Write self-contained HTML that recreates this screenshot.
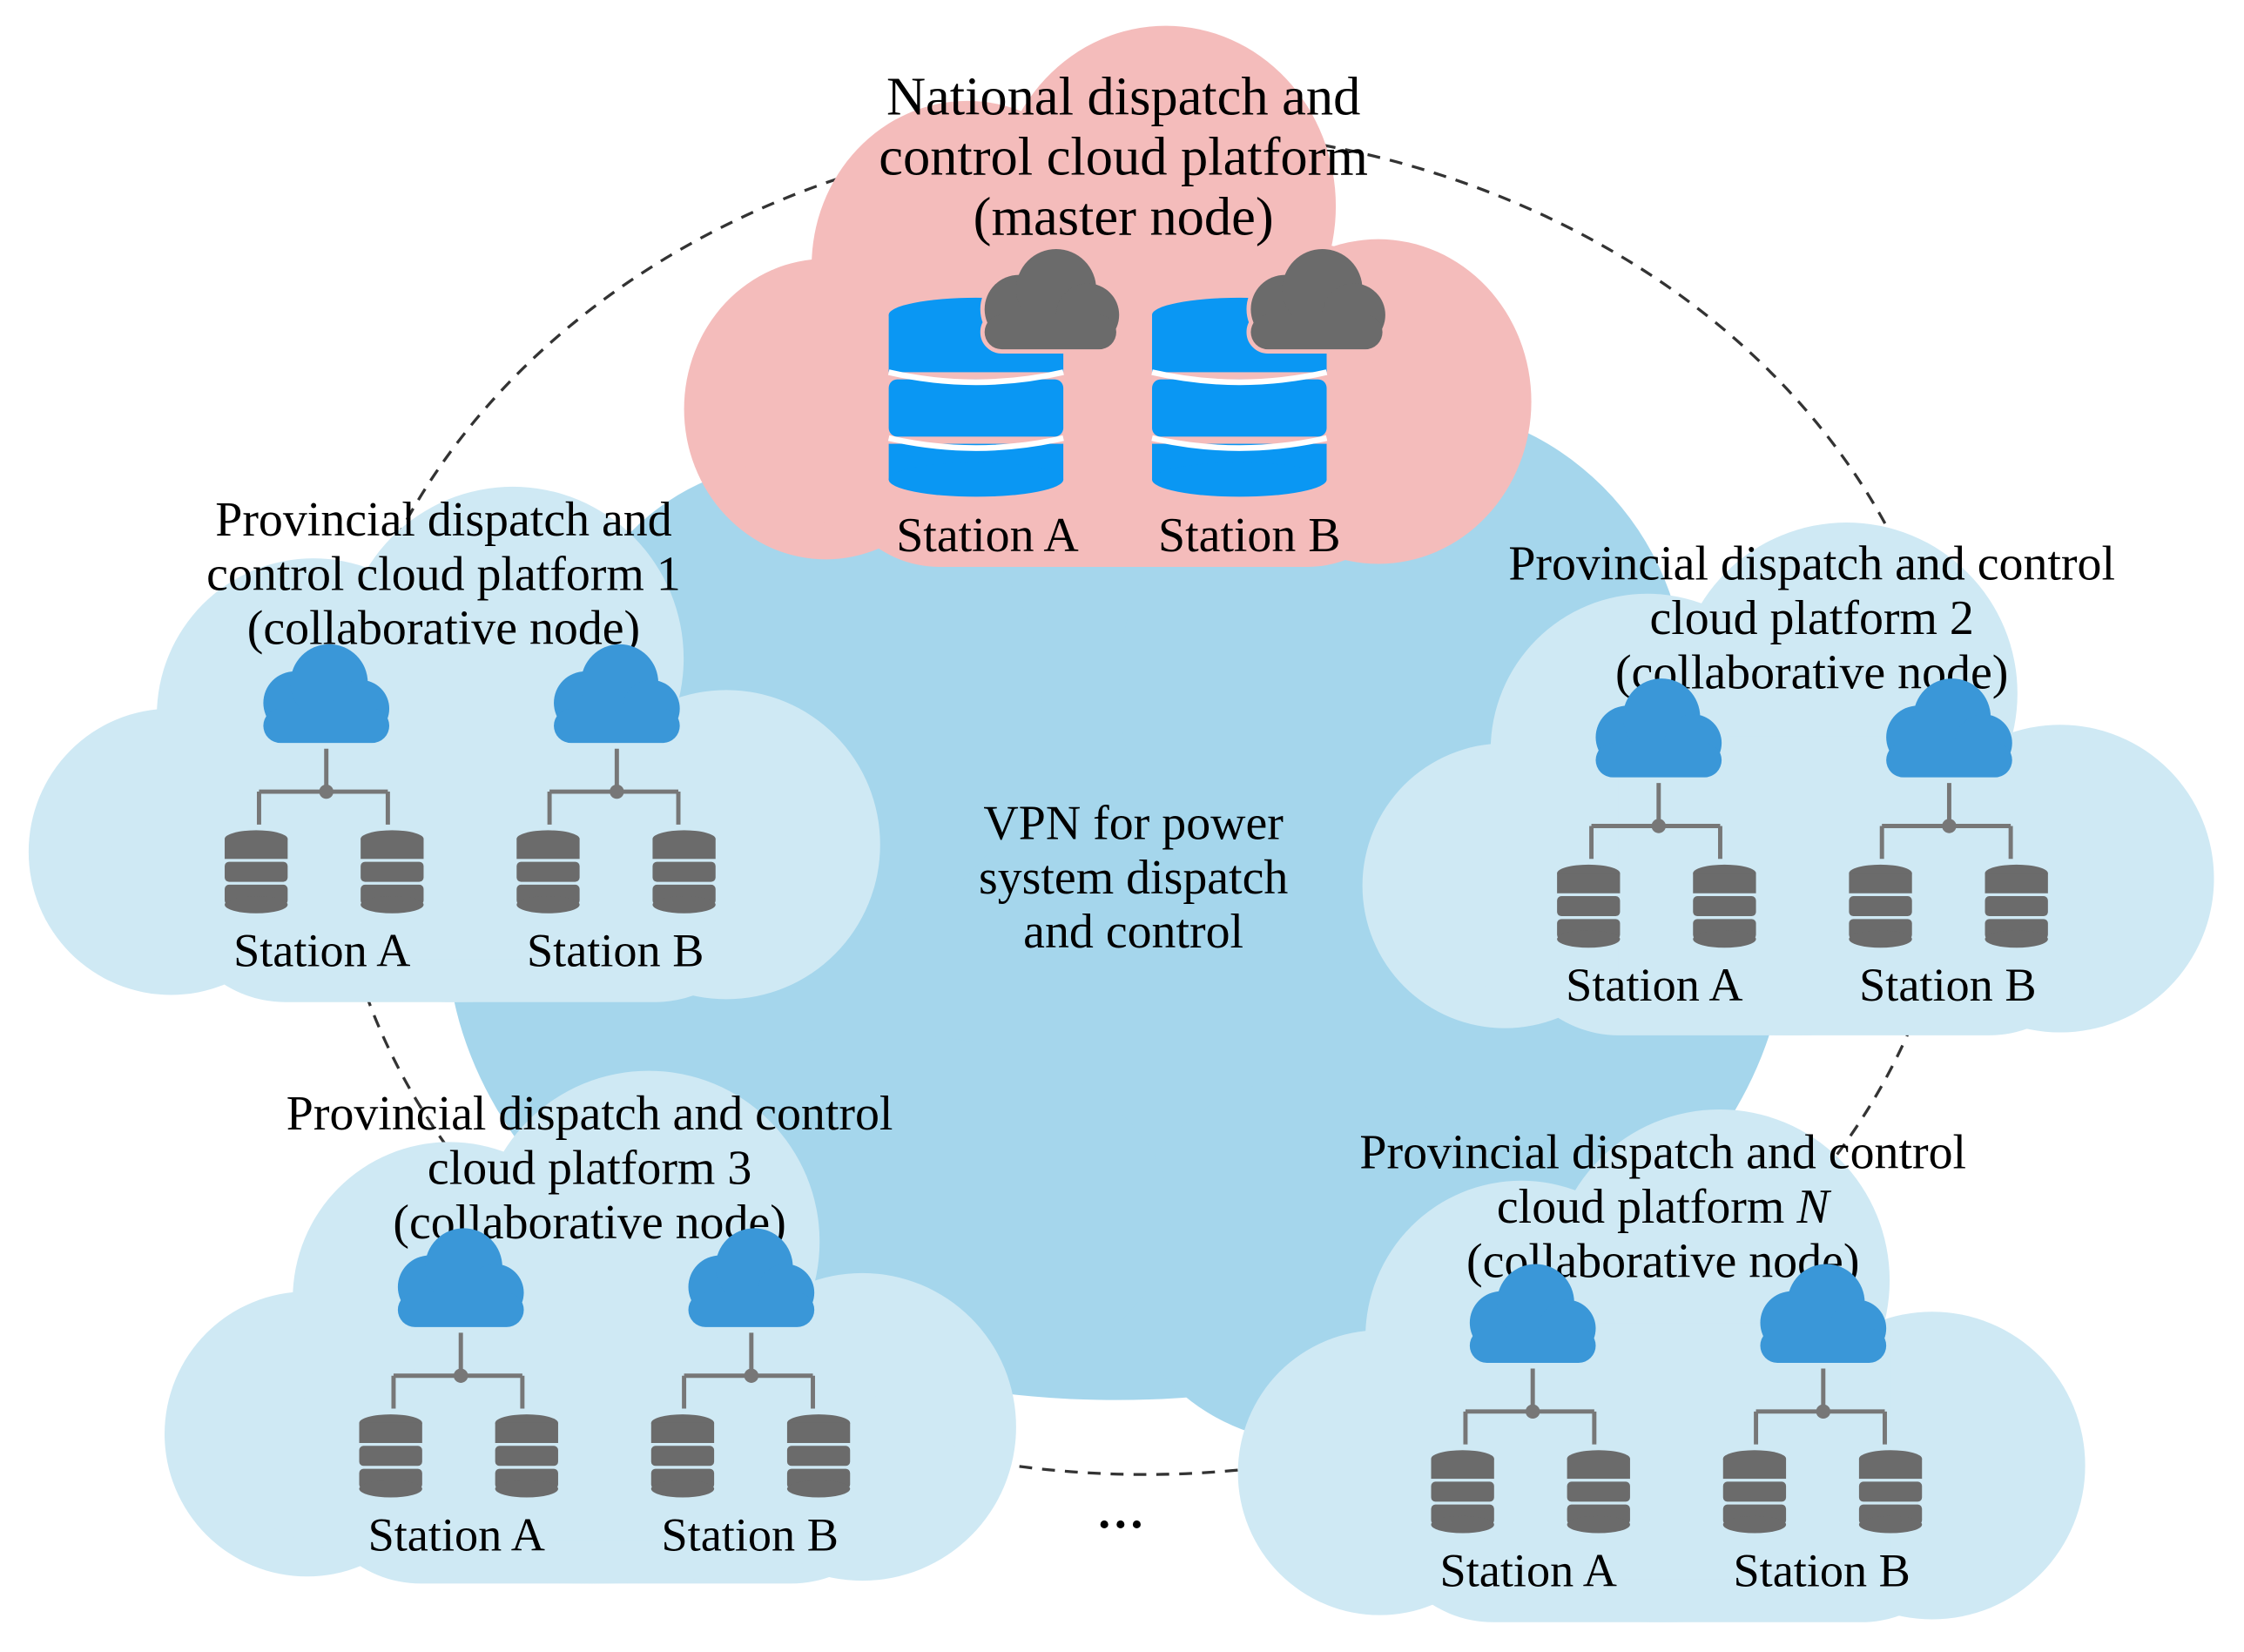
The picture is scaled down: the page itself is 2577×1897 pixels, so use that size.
<!DOCTYPE html>
<html><head><meta charset="utf-8"><style>html,body{margin:0;padding:0;background:#fff;}svg{display:block}text{font-family:"Liberation Serif",serif;}</style></head>
<body>
<svg width="2577" height="1897" viewBox="0 0 1568 1154" preserveAspectRatio="none" xmlns="http://www.w3.org/2000/svg" font-family="Liberation Serif, serif">
<defs>
<g id="cl">
<rect x="100" y="200" width="420" height="160" rx="80"/>
<circle cx="100" cy="255" r="100"/>
<circle cx="200" cy="160" r="110"/>
<circle cx="340" cy="120" r="120"/>
<circle cx="490" cy="250" r="108"/>
<ellipse cx="300" cy="280" rx="260" ry="80"/>
<rect x="180" y="150" width="280" height="180"/>
</g>
<g id="ic">
<circle cx="-22" cy="-4" r="22"/><circle cx="2" cy="-18" r="27"/><circle cx="24" cy="0" r="20"/>
<rect x="-44" y="0" width="88" height="24" rx="12"/>
</g>
<g id="db" fill="#6b6b6b">
<ellipse cx="0" cy="6" rx="22" ry="6"/>
<rect x="-22" y="6" width="44" height="14"/>
<rect x="-22" y="22" width="44" height="14" rx="3"/>
<rect x="-22" y="38" width="44" height="14" rx="3"/>
<ellipse cx="0" cy="52" rx="22" ry="6"/>
</g>
<g id="pg">
<use href="#ic" fill="#3a97d8" x="0" y="495"/>
<path d="M0 523V553M-47 553H43M-47 553V576M43 553V576" stroke="#777" stroke-width="3" fill="none"/>
<circle cx="0" cy="553" r="5" fill="#777"/>
</g>
<g id="blk">
<use href="#pg" x="228"/><use href="#pg" x="431"/>
<use href="#db" x="179" y="580"/><use href="#db" x="274" y="580"/>
<use href="#db" x="383" y="580"/><use href="#db" x="478" y="580"/>
</g>
<g id="bdb">
<ellipse cx="0" cy="10" rx="61" ry="12" fill="#0a97f3"/>
<rect x="-61" y="10" width="122" height="40" fill="#0a97f3"/>
<rect x="-61" y="55" width="122" height="40" fill="#0a97f3" rx="6"/>
<rect x="-61" y="100" width="122" height="25" fill="#0a97f3"/>
<ellipse cx="0" cy="125" rx="61" ry="12" fill="#0a97f3"/>
<path d="M-61 50Q0 64 61 50M-61 96Q0 110 61 96" stroke="#fff" stroke-width="4" fill="none"/>
</g>
<g id="dc">
<circle cx="-22" cy="-4" r="24" stroke="#f4bcbb" stroke-width="6"/><circle cx="4" cy="-18" r="28" stroke="#f4bcbb" stroke-width="6"/><circle cx="26" cy="0" r="22" stroke="#f4bcbb" stroke-width="6"/>
<rect x="-46" y="0" width="92" height="24" rx="12" stroke="#f4bcbb" stroke-width="6"/>
<circle cx="-22" cy="-4" r="24"/><circle cx="4" cy="-18" r="28"/><circle cx="26" cy="0" r="22"/>
<rect x="-46" y="0" width="92" height="24" rx="12"/>
</g>
</defs>
<ellipse cx="800" cy="560" rx="568" ry="470" fill="none" stroke="#333" stroke-width="2" stroke-dasharray="9,7"/>
<g fill="#a5d6ec"><ellipse cx="780" cy="650" rx="468" ry="328"/><circle cx="980" cy="480" r="198"/><circle cx="560" cy="490" r="168"/><ellipse cx="920" cy="880" rx="138" ry="128"/><ellipse cx="620" cy="850" rx="198" ry="128"/></g>
<use href="#cl" fill="#f4bcbb" transform="translate(478,18) scale(0.99,1.05)"/>
<text font-size="38" text-anchor="middle"><tspan x="785" y="80">National dispatch and</tspan><tspan x="785" y="122">control cloud platform</tspan><tspan x="785" y="164">(master node)</tspan></text>
<use href="#bdb" x="682" y="210"/><use href="#bdb" x="866" y="210"/>
<use href="#dc" fill="#6b6b6b" x="734" y="220"/><use href="#dc" fill="#6b6b6b" x="920" y="220"/>
<text x="690" y="385" font-size="34" text-anchor="middle">Station A</text>
<text x="873" y="385" font-size="34" text-anchor="middle">Station B</text>
<text font-size="34" text-anchor="middle"><tspan x="792" y="586">VPN for power</tspan><tspan x="792" y="624">system dispatch</tspan><tspan x="792" y="662">and control</tspan></text>
<use href="#cl" fill="#cfe9f4" transform="translate(20,340) scale(0.995,1)"/>
<use href="#cl" fill="#cfe9f4" transform="translate(952,365) scale(0.995,0.995)"/>
<use href="#cl" fill="#cfe9f4" transform="translate(115,748) scale(0.995,0.995)"/>
<use href="#cl" fill="#cfe9f4" transform="translate(865,775) scale(0.99,0.995)"/>
<text font-size="34" text-anchor="middle"><tspan x="310" y="374">Provincial dispatch and</tspan><tspan x="310" y="412">control cloud platform 1</tspan><tspan x="310" y="450">(collaborative node)</tspan></text>
<use href="#blk"/>
<text font-size="33" text-anchor="middle"><tspan x="225" y="675">Station A</tspan><tspan x="430" y="675">Station B</tspan></text>
<text font-size="34" text-anchor="middle"><tspan x="1266" y="405">Provincial dispatch and control</tspan><tspan x="1266" y="443">cloud platform 2</tspan><tspan x="1266" y="481">(collaborative node)</tspan></text>
<use href="#blk" transform="translate(931,24)"/>
<text font-size="33" text-anchor="middle"><tspan x="1156" y="699">Station A</tspan><tspan x="1361" y="699">Station B</tspan></text>
<text font-size="34" text-anchor="middle"><tspan x="412" y="789">Provincial dispatch and control</tspan><tspan x="412" y="827">cloud platform 3</tspan><tspan x="412" y="865">(collaborative node)</tspan></text>
<use href="#blk" transform="translate(94,408)"/>
<text font-size="33" text-anchor="middle"><tspan x="319" y="1083">Station A</tspan><tspan x="524" y="1083">Station B</tspan></text>
<text font-size="34" text-anchor="middle"><tspan x="1162" y="816">Provincial dispatch and control</tspan><tspan x="1162" y="854">cloud platform <tspan font-style="italic">N</tspan></tspan><tspan x="1162" y="892">(collaborative node)</tspan></text>
<use href="#blk" transform="translate(843,433)"/>
<text font-size="33" text-anchor="middle"><tspan x="1068" y="1108">Station A</tspan><tspan x="1273" y="1108">Station B</tspan></text>
<text x="783" y="1076" font-size="34" text-anchor="middle" font-weight="bold">···</text>
</svg>
</body></html>
